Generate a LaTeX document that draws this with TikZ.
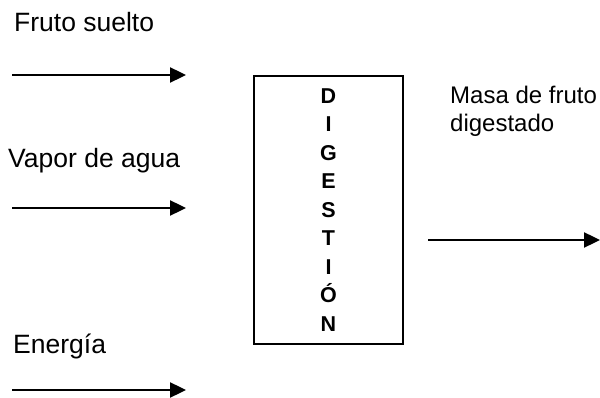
\documentclass[tikz,border=0pt]{standalone}
\usepackage{fontspec}
\setmainfont{Liberation Sans}
\usetikzlibrary{arrows.meta}
\begin{document}
\begin{tikzpicture}[x=1pt,y=-1pt,
  flow/.style={line width=2.4pt,-{Triangle[length=16pt,width=15pt]}},
  label/.style={anchor=base west,inner sep=0pt,font=\fontsize{26.5}{30}\selectfont},
  outlabel/.style={anchor=base west,inner sep=0pt,align=left,font=\fontsize{24}{28}\selectfont},
  process/.style={draw,line width=2.8pt,minimum width=149pt,minimum height=268pt,
    inner sep=0pt,align=center,font=\fontsize{21.5}{28.5}\selectfont\bfseries}]
  \useasboundingbox (0,0) rectangle (600,398);

  % process block with the vertical title
  \node[process] (dig) at (328.5,210) {D\\I\\G\\E\\S\\T\\I\\Ó\\N};

  % inputs
  \node[label] (l1) at (14,32) {Fruto suelto};
  \node[label] (l2) at (8,168) {Vapor de agua};
  \node[label] (l3) at (13,353) {Energía};
  \coordinate (a1s) at (12,75);  \coordinate (a1e) at (186,75);
  \coordinate (a2s) at (12,208); \coordinate (a2e) at (186,208);
  \coordinate (a3s) at (12,390); \coordinate (a3e) at (186,390);
  \draw[flow] (a1s) -- (a1e);
  \draw[flow] (a2s) -- (a2e);
  \draw[flow] (a3s) -- (a3e);

  % output
  \node[outlabel] (out) at (450,132) {Masa de fruto\\digestado};
  \coordinate (o1s) at (428,240); \coordinate (o1e) at (600,240);
  \draw[flow] (o1s) -- (o1e);
\end{tikzpicture}
\end{document}
